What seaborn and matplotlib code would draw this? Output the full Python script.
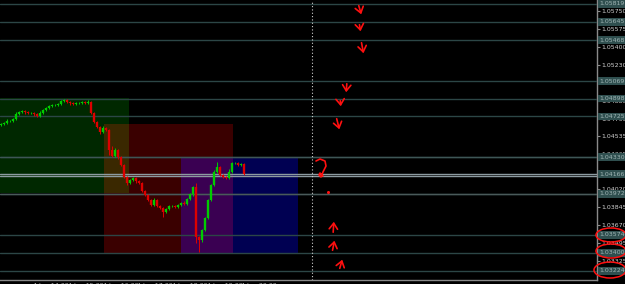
import numpy as np
import pandas as pd
import seaborn as sns
import matplotlib
matplotlib.use("Agg")
import matplotlib.pyplot as plt
from matplotlib.patches import Ellipse, Rectangle
from matplotlib.lines import Line2D
import matplotlib.transforms as mtransforms

# ---------------- data ----------------
closes = [1.04652, 1.04661, 1.04681, 1.04681, 1.04700, 1.04749, 1.04768, 1.04778, 1.04768, 1.04759,
          1.04759, 1.04749, 1.04729, 1.04759, 1.04788, 1.04807, 1.04827, 1.04836, 1.04836, 1.04846,
          1.04875, 1.04885, 1.04865, 1.04856, 1.04846, 1.04856, 1.04856, 1.04865, 1.04856, 1.04865,
          1.04759, 1.04671, 1.04622, 1.04574, 1.04613, 1.04593, 1.04399, 1.04341, 1.04399, 1.04331,
          1.04253, 1.04136, 1.04078, 1.04107, 1.04127, 1.04098, 1.04078, 1.04000, 1.03962, 1.03913,
          1.03864, 1.03913, 1.03855, 1.03835, 1.03796, 1.03825, 1.03855, 1.03855, 1.03845, 1.03864,
          1.03884, 1.03874, 1.03923, 1.03971, 1.04039, 1.03553, 1.03524, 1.03621, 1.03738, 1.03913,
          1.04059, 1.04185, 1.04234, 1.04156, 1.04136, 1.04127, 1.04185, 1.04273, 1.04273, 1.04253,
          1.04263, 1.04166]
first_open = 1.04640
# wick extensions above / below the body (price units)
wick_up = [12, 8, 15, 6, 10, 18, 9, 12, 7, 10, 14, 6, 9, 16, 8, 12, 10, 7, 13, 9,
           15, 8, 11, 6, 10, 14, 7, 12, 9, 20, 8, 10, 14, 9, 16, 10, 12, 40, 15, 10,
           9, 14, 8, 12, 10, 7, 11, 15, 9, 12, 10, 16, 8, 13, 9, 11, 14, 7, 10, 12,
           9, 15, 11, 13, 10, 40, 12, 9, 14, 10, 12, 16, 48, 10, 13, 9, 25, 12, 8, 14,
           10, 8]
wick_dn = [10, 14, 8, 12, 9, 7, 13, 10, 15, 8, 11, 16, 9, 8, 12, 7, 10, 14, 8, 11,
           9, 12, 10, 15, 8, 11, 13, 9, 12, 10, 14, 12, 10, 16, 9, 13, 50, 11, 9, 15,
           12, 10, 14, 9, 11, 15, 10, 8, 13, 11, 12, 9, 14, 10, 48, 12, 9, 11, 13, 10,
           12, 8, 11, 9, 14, 60, 116, 14, 12, 10, 9, 13, 11, 14, 10, 12, 9, 11, 10, 13,
           9, 12]

levels = [1.05819, 1.05645, 1.05468, 1.05069, 1.04898, 1.04725, 1.04330, 1.03972,
          1.03574, 1.03400, 1.03224]
bid_ask = [1.04166, 1.04146]
y_ticks = [1.05750, 1.05575, 1.05400, 1.05230, 1.05055, 1.04880, 1.04705, 1.04535,
           1.04365, 1.04190, 1.04020, 1.03845, 1.03670, 1.03495, 1.03325]
x_tick_pos = [10.7, 22.3, 33.9, 45.5, 57.0, 68.7, 80.0]
x_tick_labels = ["4 Jun 14:00", "4 Jun 15:00", "4 Jun 16:00", "4 Jun 17:00",
                 "4 Jun 18:00", "4 Jun 19:00", "4 Jun 20:00"]
# zones: name, x0, x1, low, high
zone_names = ["green", "red", "blue"]
zone_x0 = [-5.0, 34.3, 60.0]
zone_x1 = [42.7, 77.3, 99.0]
zone_lo = [1.03981, 1.03401, 1.03401]
zone_hi = [1.04905, 1.04652, 1.04328]
now_line = 103.7

# ---------------- style ----------------
sns.set_theme(style="dark", rc={"axes.facecolor": "black", "figure.facecolor": "black"})
plt.rcParams['font.family'] = ['DejaVu Sans']

W, H = 625, 284
fig = plt.figure(figsize=(W / 100, H / 100), dpi=100)
ax = fig.add_axes([0, 4 / H, 597 / W, 280 / H])
ax.set_facecolor("black")

ax.set_xlim(-0.33, 198.67)
ax.set_ylim(1.03136, 1.05857)

# zones with additive colours
zone_rgb = {"green": np.array([0, 40, 0]), "red": np.array([58, 0, 0]), "blue": np.array([0, 0, 82])}
for n, a, b, lo, hi in zip(zone_names, zone_x0, zone_x1, zone_lo, zone_hi):
    ax.add_patch(Rectangle((a, lo), b - a, hi - lo, facecolor=zone_rgb[n] / 255, edgecolor="none", zorder=1))
for i in range(3):
    for j in range(i + 1, 3):
        a = max(zone_x0[i], zone_x0[j]); b = min(zone_x1[i], zone_x1[j])
        lo = max(zone_lo[i], zone_lo[j]); hi = min(zone_hi[i], zone_hi[j])
        if a < b and lo < hi:
            c = np.clip(zone_rgb[zone_names[i]] + zone_rgb[zone_names[j]], 0, 255) / 255
            ax.add_patch(Rectangle((a, lo), b - a, hi - lo, facecolor=c, edgecolor="none", zorder=2))

# level lines
for lv in levels:
    ax.axhline(lv, color="#2c4646", lw=1.0, zorder=3)
ax.axhline(levels[6], color="#3e5656", lw=1.0, zorder=3)
ax.axhline(levels[7], color="#4a5a5a", lw=1.0, zorder=3)
for lv in bid_ask:
    ax.axhline(lv, color="#8c9aa0", lw=1.0, zorder=3)

ax.axvline(now_line, color="#d0d0d0", lw=0.8, ls=(0, (1, 2)), zorder=4)

# candles
df = pd.DataFrame({"close": closes})
df["open"] = [first_open] + closes[:-1]
df["x"] = np.arange(len(df))
df["body_lo"] = df[["open", "close"]].min(axis=1)
df["body_hi"] = df[["open", "close"]].max(axis=1)
df["hi"] = df["body_hi"] + np.array(wick_up) * 1e-5
df["lo"] = df["body_lo"] - np.array(wick_dn) * 1e-5
df["up"] = df["close"] >= df["open"]
col = np.where(df["up"], "#00cc00", "#dd0000")
ax.vlines(df["x"], df["lo"], df["hi"], colors=col, lw=0.7, zorder=5)
ax.vlines(df["x"], df["body_lo"], df["body_hi"] + 2e-5, colors=col, lw=1.7, zorder=6)

# axes styling
for s in ["top", "left"]:
    ax.spines[s].set_visible(False)
for s in ["right", "bottom"]:
    ax.spines[s].set_visible(True)
    ax.spines[s].set_color("#8a8a8a")
    ax.spines[s].set_linewidth(1.0)
ax.grid(False)
ax.yaxis.tick_right()
ax.set_yticks(y_ticks)
ax.set_yticklabels([f"{v:.5f}" for v in y_ticks])
ax.tick_params(axis="y", colors="#8a8a8a", labelcolor="#d0d0d0", labelsize=4.5, length=2, pad=1, width=0.8)
ax.set_xticks(x_tick_pos)
ax.set_xticklabels(x_tick_labels, ha="left")
ax.tick_params(axis="x", colors="#8a8a8a", labelcolor="#c0c0c0", labelsize=4.5, length=3, pad=1, width=0.8,
               direction="inout")

# boxed level labels
trans = mtransforms.blended_transform_factory(ax.transAxes, ax.transData)
for lv in levels + [bid_ask[0]]:
    ax.text(1.004, lv, f"{lv:.5f}", transform=trans, ha="left", va="center", fontsize=4.5,
            color="#9fb4b4", clip_on=False, zorder=10,
            bbox=dict(boxstyle="square,pad=0.2", facecolor="#2f4f4f", edgecolor="none"))

# hand-drawn red annotations (figure pixel coords, y from top)
def P(x, y):
    return (x, H - y)

down = [((358, 3), (362, 17)), ((359, 22), (361, 34)), ((361, 40), (364, 56)),
        ((347, 81), (346, 95)), ((340, 98), (341, 109)), ((336, 116), (340, 132))]
up = [((333, 235), (334, 219)), ((332, 253), (335, 238)), ((339, 271), (343, 257))]
for a, b in down + up:
    ax.annotate("", xy=P(*b), xytext=P(*a), xycoords="figure pixels", textcoords="figure pixels",
                arrowprops=dict(arrowstyle="->,head_length=0.35,head_width=0.25", color="#ff1010", lw=1.2),
                zorder=20, annotation_clip=False)
qx = [316, 320, 325, 326, 323, 321, 319, 320, 323]
qy = [161, 159, 161, 166, 172, 177, 175, 173, 176]
fig.add_artist(Line2D([x / W for x in qx], [(H - y) / H for y in qy], transform=fig.transFigure,
                      color="#ff1010", lw=1.2))
fig.add_artist(Line2D([328 / W], [(H - 192) / H], transform=fig.transFigure, marker="o",
                      markersize=1.2, color="#ff1010", lw=0))
for cx, cy, w, h in [(611, 235, 30, 14), (611, 251, 30, 14), (610, 270, 32, 16)]:
    fig.add_artist(Ellipse((cx / W, (H - cy) / H), w / W, h / H, transform=fig.transFigure,
                           facecolor="none", edgecolor="#ff1010", lw=1.1, zorder=30))

fig.savefig("out.png", dpi=100, facecolor="black")
